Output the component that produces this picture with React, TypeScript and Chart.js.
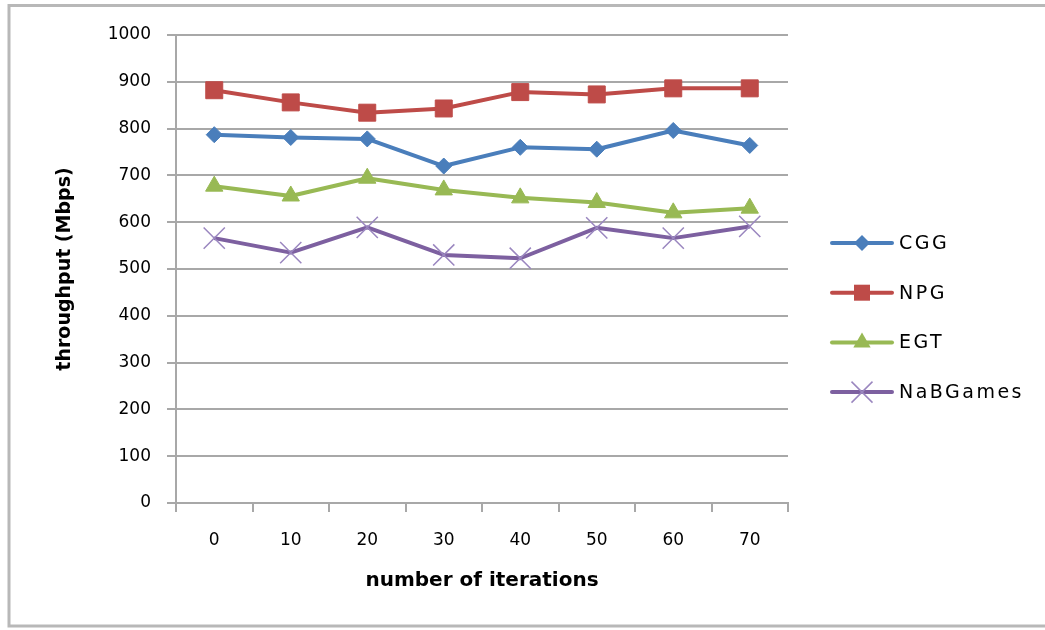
import React, { useEffect, useRef } from "react";
import { Chart, registerables } from "chart.js";

Chart.register(...registerables);

// Iteration counts along the x axis
const iterations = ["0", "10", "20", "30", "40", "50", "60", "70"];

// Throughput (Mbps) per scheme
const cggThroughput = [787, 781, 778, 720, 760, 756, 796, 764];
const npgThroughput = [882, 856, 834, 843, 878, 873, 886, 886];
const egtThroughput = [677, 656, 694, 669, 652, 642, 620, 630];
const nabgamesThroughput = [566, 535, 589, 530, 523, 588, 566, 591];

// Y axis range
const yMin = 0;
const yMax = 1000;
const yStep = 100;

const seriesNames = ["CGG", "NPG", "EGT", "NaBGames"];

const TICK_FONT = { family: "'DejaVu Sans', sans-serif", size: 17 };
const TITLE_FAMILY = "'DejaVu Sans', sans-serif";
const GRID = "#a8a8a8";

type Marker = "rectRot" | "rect" | "triangle" | "crossRot";

// Legend marker drawn next to each series name
function drawMarker(ctx: CanvasRenderingContext2D, kind: Marker, x: number, y: number, fill: string, stroke: string) {
  ctx.save();
  ctx.fillStyle = fill;
  ctx.strokeStyle = stroke;
  ctx.beginPath();
  if (kind === "rectRot") {
    const r = 8;
    ctx.moveTo(x - r, y);
    ctx.lineTo(x, y - r);
    ctx.lineTo(x + r, y);
    ctx.lineTo(x, y + r);
    ctx.closePath();
    ctx.fill();
  } else if (kind === "rect") {
    const s = 8;
    ctx.rect(x - s, y - s, 2 * s, 2 * s);
    ctx.fill();
  } else if (kind === "triangle") {
    const r = 10;
    ctx.moveTo(x, y - r);
    ctx.lineTo(x + 0.866 * r, y + 0.5 * r);
    ctx.lineTo(x - 0.866 * r, y + 0.5 * r);
    ctx.closePath();
    ctx.fill();
  } else {
    const d = 10.5;
    ctx.lineWidth = 1.5;
    ctx.moveTo(x - d, y - d);
    ctx.lineTo(x + d, y + d);
    ctx.moveTo(x + d, y - d);
    ctx.lineTo(x - d, y + d);
    ctx.stroke();
  }
  ctx.restore();
}

const frameAndLegend = {
  id: "frameAndLegend",
  beforeDraw(chart: any) {
    const { ctx } = chart;
    ctx.save();
    ctx.fillStyle = "#ffffff";
    ctx.fillRect(0, 0, chart.width, chart.height);
    ctx.strokeStyle = "#b8b8b8";
    ctx.lineWidth = 3;
    ctx.strokeRect(9, 5.5, chart.width + 10, 620.5);
    ctx.restore();
  },
  afterDraw(chart: any) {
    const { ctx } = chart;
    const x0 = 832;
    const x1 = 892;
    const textX = 899;
    const startY = 243;
    const gap = 49.7;
    chart.data.datasets.forEach((ds: any, i: number) => {
      const y = startY + i * gap;
      ctx.save();
      ctx.strokeStyle = ds.borderColor;
      ctx.lineWidth = 4;
      ctx.lineCap = "round";
      ctx.beginPath();
      ctx.moveTo(x0, y);
      ctx.lineTo(x1, y);
      ctx.stroke();
      ctx.restore();
      drawMarker(ctx, ds.pointStyle, (x0 + x1) / 2, y, ds.pointBackgroundColor, ds.pointBorderColor);
      ctx.save();
      ctx.fillStyle = "#000000";
      ctx.font = "19px 'DejaVu Sans', sans-serif";
      (ctx as any).letterSpacing = "2.5px";
      ctx.textAlign = "left";
      ctx.textBaseline = "middle";
      ctx.fillText(ds.label, textX, y + 1);
      ctx.restore();
    });
  },
};

export default function App() {
  const canvasRef = useRef<HTMLCanvasElement | null>(null);

  useEffect(() => {
    const canvas = canvasRef.current;
    if (!canvas) return;

    const blue = "#4A7EBB";
    const red = "#BE4B48";
    const green = "#98B954";
    const purple = "#7D60A0";

    const chart = new Chart(canvas, {
      type: "line",
      data: {
        labels: iterations,
        datasets: [
          {
            label: seriesNames[0],
            data: cggThroughput,
            borderColor: blue,
            backgroundColor: blue,
            pointBackgroundColor: blue,
            pointBorderColor: blue,
            borderWidth: 4,
            pointStyle: "rectRot",
            pointRadius: 8,
            pointBorderWidth: 1,
            borderJoinStyle: "round",
            tension: 0,
          },
          {
            label: seriesNames[1],
            data: npgThroughput,
            borderColor: red,
            backgroundColor: red,
            pointBackgroundColor: red,
            pointBorderColor: red,
            borderWidth: 4,
            pointStyle: "rect",
            pointRadius: 12,
            pointBorderWidth: 1,
            borderJoinStyle: "round",
            tension: 0,
          },
          {
            label: seriesNames[2],
            data: egtThroughput,
            borderColor: green,
            backgroundColor: green,
            pointBackgroundColor: green,
            pointBorderColor: green,
            borderWidth: 4,
            pointStyle: "triangle",
            pointRadius: 10,
            pointBorderWidth: 1,
            borderJoinStyle: "round",
            tension: 0,
          },
          {
            label: seriesNames[3],
            data: nabgamesThroughput,
            borderColor: purple,
            backgroundColor: purple,
            pointBackgroundColor: purple,
            pointBorderColor: "#9a86bf",
            borderWidth: 4,
            pointStyle: "crossRot",
            pointRadius: 15,
            pointBorderWidth: 1.5,
            borderJoinStyle: "round",
            tension: 0,
          },
        ],
      },
      options: {
        responsive: false,
        animation: false,
        layout: { padding: { left: 20, right: 257, top: 35, bottom: 0 } },
        plugins: {
          legend: { display: false },
          tooltip: { enabled: false },
        },
        scales: {
          x: {
            type: "category",
            offset: true,
            grid: {
              display: true,
              drawOnChartArea: false,
              drawTicks: true,
              tickLength: 9,
              offset: true,
              color: GRID,
              lineWidth: 2,
            },
            border: { display: true, color: GRID, width: 2 },
            ticks: { color: "#000000", font: TICK_FONT, padding: 18, maxRotation: 0 },
            title: {
              display: true,
              text: "number of iterations",
              color: "#000000",
              font: { family: TITLE_FAMILY, size: 20, weight: "bold" },
              padding: { top: 0, bottom: 37 },
            },
            afterFit: (scale: any) => {
              scale.height = 127;
            },
          },
          y: {
            min: yMin,
            max: yMax,
            ticks: {
              stepSize: yStep,
              color: "#000000",
              font: TICK_FONT,
              padding: 16,
              callback: (value: any) => String(value),
            },
            grid: { color: GRID, lineWidth: 2, tickLength: 9, drawTicks: true },
            border: { display: true, color: GRID, width: 2 },
            title: {
              display: true,
              text: "throughput (Mbps)",
              color: "#000000",
              font: { family: TITLE_FAMILY, size: 19, weight: "bold" },
              padding: { top: 34, bottom: 0 },
            },
            afterFit: (scale: any) => {
              scale.width = 156;
            },
          },
        },
      },
      plugins: [frameAndLegend],
    } as any);

    return () => {
      chart.destroy();
    };
  }, []);

  return (
    <div style={{ position: "fixed", left: 0, top: 0, width: 1045, height: 630, background: "#ffffff" }}>
      <canvas ref={canvasRef} width={1045} height={630} style={{ display: "block" }} />
    </div>
  );
}
